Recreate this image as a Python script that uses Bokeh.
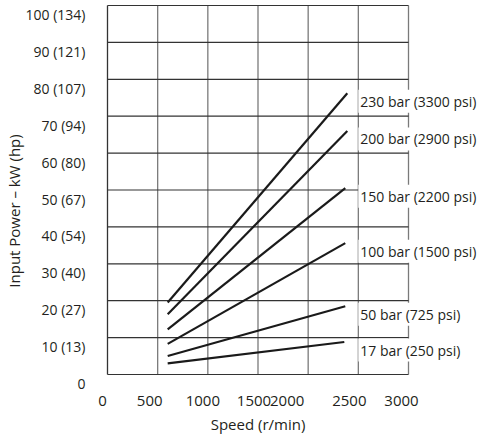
from bokeh.plotting import figure
from bokeh.models import Range1d, Label
from bokeh.embed import file_html
from bokeh.resources import INLINE

# pressure curves: input power (kW) against speed (r/min)
curve_names = ["230 bar (3300 psi)", "200 bar (2900 psi)", "150 bar (2200 psi)",
               "100 bar (1500 psi)", "50 bar (725 psi)", "17 bar (250 psi)"]
speed_start = [600, 600, 600, 600, 600, 600]
speed_end = [2390, 2390, 2370, 2370, 2370, 2360]
power_start = [19.5, 16.3, 12.2, 8.3, 5.0, 3.0]
power_end = [76.2, 66.0, 50.5, 35.6, 18.5, 8.8]

# axes
x_ticks = [0, 500, 1000, 1500, 2000, 2500, 3000]
x_tick_labels = ["0", "500", "1000", "1500", "2000", "2500", "3000"]
y_ticks = [0, 10, 20, 30, 40, 50, 60, 70, 80, 90, 100]
y_tick_labels = ["0", "10 (13)", "20 (27)", "30 (40)", "40 (54)", "50 (67)",
                 "60 (80)", "70 (94)", "80 (107)", "90 (121)", "100 (134)"]

# the original squeezes 1500 and 2000 together, so the labels are nudged (px)
x_nudge = [-5, -8, -5, -4, -21, -9, -7]

FONT = "Open Sans"
INK = "#231f20"

# annotations get clipped to the frame, so the frame is the whole canvas and
# the chart box (left 107, right 408, top 5, bottom 374 px) is set by the ranges
W, H = 484, 436
BOX_L, BOX_R, BOX_T, BOX_B = 107, 408, 5, 374
XMAX, YMAX = 3000, 100
kx = XMAX / (BOX_R - BOX_L)
ky = YMAX / (BOX_B - BOX_T)

p = figure(width=W, height=H, output_backend="svg", toolbar_location=None,
           x_range=Range1d(-BOX_L * kx, (W - BOX_L) * kx),
           y_range=Range1d(-(H - BOX_B) * ky, BOX_B * ky),
           x_axis_location=None, y_axis_location=None, min_border=0)
p.outline_line_color = None
p.background_fill_color = "white"
p.border_fill_color = "white"
p.grid.visible = False

# grid box: vertical lines grey, the zero line and horizontals dark
vcol = ["#333333" if v == 0 else "#7a7a7a" for v in x_ticks]
p.segment(x0=x_ticks, y0=[0] * len(x_ticks), x1=x_ticks, y1=[YMAX] * len(x_ticks),
          line_color=vcol, line_width=1.3)
p.segment(x0=[0] * len(y_ticks), y0=y_ticks, x1=[XMAX] * len(y_ticks), y1=y_ticks,
          line_color="#333333", line_width=1.2)

for xs, xe, ys, ye in zip(speed_start, speed_end, power_start, power_end):
    p.line([xs, xe], [ys, ye], line_color="#1a1a1a", line_width=2.2)

# curve labels, white boxes break the grid behind them
for name, xe, ye in zip(curve_names, speed_end, power_end):
    p.add_layout(Label(x=2500, y=ye, x_offset=0, y_offset=-8, text=name,
                       text_font=FONT, text_font_size="14px", text_color=INK,
                       text_align="left", text_baseline="middle",
                       background_fill_color="white", padding=2))

# tick labels
for v, t in zip(y_ticks, y_tick_labels):
    p.add_layout(Label(x=0, y=v, x_offset=-22, y_offset=-9, text=t,
                       text_font=FONT, text_font_size="14px", text_color=INK,
                       text_align="right", text_baseline="middle"))
for v, t, dx in zip(x_ticks, x_tick_labels, x_nudge):
    p.add_layout(Label(x=v, y=0, x_offset=dx, y_offset=-26, text=t,
                       text_font=FONT, text_font_size="15px", text_color=INK,
                       text_align="center", text_baseline="middle"))

# axis titles
p.add_layout(Label(x=XMAX / 2, y=0, y_offset=-49, text="Speed (r/min)",
                   text_font=FONT, text_font_size="15px", text_color=INK,
                   text_align="center", text_baseline="middle"))
p.add_layout(Label(x=0, y=YMAX / 2, x_offset=-94, y_offset=-21, angle=90, angle_units="deg",
                   text="Input Power \u2013 kW (hp)",
                   text_font=FONT, text_font_size="15px", text_color=INK,
                   text_align="center", text_baseline="middle"))

open("out.html", "w").write(file_html(p, INLINE))
